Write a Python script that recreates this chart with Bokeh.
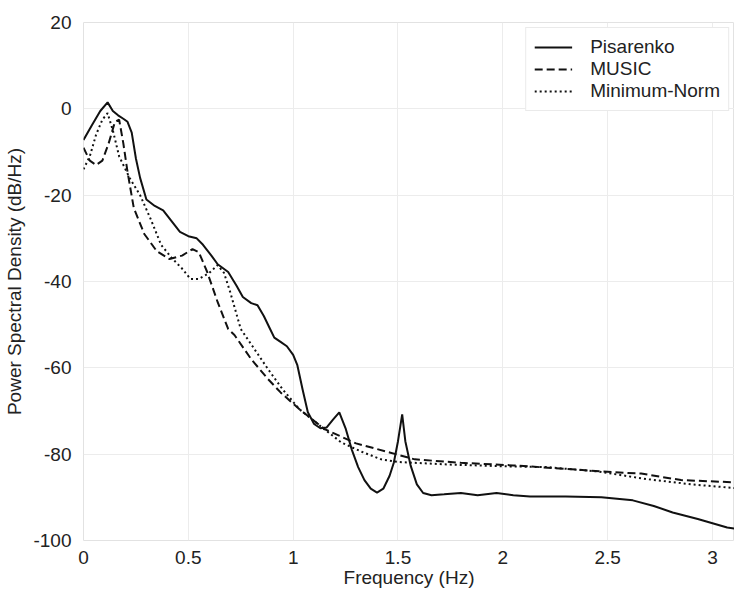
from bokeh.plotting import figure
from bokeh.models import FixedTicker, Range1d, Legend, LegendItem
from bokeh.embed import file_html
from bokeh.resources import INLINE

# ---- data ----
freq_pis = [0, 0.04, 0.08, 0.115, 0.14, 0.165, 0.19, 0.21, 0.23, 0.25, 0.27, 0.30, 0.34, 0.38,
            0.42, 0.46, 0.50, 0.54, 0.57, 0.61, 0.64, 0.69, 0.73, 0.76, 0.80, 0.83, 0.86, 0.89,
            0.91, 0.94, 0.97, 1.00, 1.02, 1.045, 1.07, 1.10, 1.13, 1.16, 1.19, 1.22, 1.25, 1.28,
            1.31, 1.34, 1.37, 1.40, 1.43, 1.46, 1.48, 1.50, 1.52, 1.535, 1.56, 1.59, 1.62, 1.66,
            1.72, 1.80, 1.88, 1.97, 2.05, 2.13, 2.30, 2.47, 2.62, 2.72, 2.81, 2.93, 3.07, 3.14]
psd_pis = [-7.2, -3.8, -0.5, 1.5, -0.5, -1.5, -2.3, -3, -5.5, -11.5, -16, -21, -22.5, -23.5,
           -26, -28.5, -29.5, -30, -31.5, -34, -36, -37.8, -41, -43.6, -45, -45.5, -48, -51,
           -53, -54, -55, -57, -59.4, -65, -70.3, -73, -74, -73.8, -72, -70.3, -74, -79,
           -83, -86, -88, -88.9, -88, -85, -82, -77, -70.8, -77, -82.6, -87, -89, -89.5,
           -89.3, -89, -89.5, -89, -89.5, -89.8, -89.8, -90, -90.7, -92, -93.5, -95, -97, -97.5]

freq_music = [0, 0.03, 0.06, 0.09, 0.12, 0.15, 0.17, 0.19, 0.21, 0.24, 0.29, 0.35, 0.41, 0.47,
              0.52, 0.55, 0.59, 0.64, 0.69, 0.72, 0.80, 0.88, 0.94, 1.03, 1.15, 1.30, 1.46,
              1.58, 1.80, 2.05, 2.30, 2.53, 2.66, 2.85, 3.14]
psd_music = [-9, -12, -13, -12, -8, -3, -2.5, -8, -14.6, -23, -29, -33, -34.8, -34,
             -32.5, -33.2, -37.8, -44.8, -51, -52.4, -58, -62.6, -65.7, -69.6, -74.2, -77.5, -79.6,
             -81.2, -82, -82.6, -83.4, -84.2, -84.5, -86, -86.6]

freq_mnorm = [0, 0.03, 0.06, 0.09, 0.115, 0.14, 0.17, 0.22, 0.27, 0.32, 0.37, 0.42, 0.47, 0.51,
              0.55, 0.60, 0.64, 0.67, 0.70, 0.75, 0.82, 0.88, 0.95, 1.03, 1.13, 1.23, 1.33,
              1.42, 1.50, 1.74, 2.0, 2.21, 2.45, 2.69, 2.90, 3.14]
psd_mnorm = [-14, -11, -6, -2.5, -1, -5, -11, -16, -20, -25.5, -31.5, -34.5, -37, -39.4,
             -39.4, -38, -36.2, -38, -42.5, -51, -56, -60.3, -65, -69.6, -73.5, -77.3, -79.5,
             -81.2, -81.8, -82.4, -82.8, -83, -84, -85.8, -87, -88]

series_names = ["Pisarenko", "MUSIC", "Minimum-Norm"]

x_ticks = [0, 0.5, 1, 1.5, 2, 2.5, 3]
x_tick_labels = ["0", "0.5", "1", "1.5", "2", "2.5", "3"]
y_ticks = [-100, -80, -60, -40, -20, 0, 20]
y_tick_labels = ["-100", "-80", "-60", "-40", "-20", "0", "20"]

FONT = "Liberation Sans"
TXT = "#222222"

p = figure(width=734, height=590, output_backend="svg", toolbar_location=None,
           x_range=Range1d(0, 3.105), y_range=Range1d(-100, 20),
           min_border_left=83, min_border_right=0, min_border_top=22, min_border_bottom=50)

p.outline_line_color = "#e2e2e2"
p.background_fill_color = "white"
p.border_fill_color = "white"

for ax in (p.xaxis[0], p.yaxis[0]):
    ax.axis_line_color = None
    ax.major_tick_line_color = None
    ax.minor_tick_line_color = None
    ax.major_label_text_font = FONT
    ax.major_label_text_font_size = "19px"
    ax.major_label_text_color = TXT
    ax.axis_label_text_font = FONT
    ax.axis_label_text_font_size = "19px"
    ax.axis_label_text_font_style = "normal"
    ax.axis_label_text_color = TXT

p.xaxis.ticker = FixedTicker(ticks=x_ticks)
p.xaxis.major_label_overrides = dict(zip(x_ticks, x_tick_labels))
p.yaxis.ticker = FixedTicker(ticks=y_ticks)
p.yaxis.major_label_overrides = dict(zip(y_ticks, y_tick_labels))
p.xaxis.axis_label = "Frequency (Hz)"
p.yaxis.axis_label = "Power Spectral Density (dB/Hz)"
p.xaxis.major_label_standoff = 4
p.xaxis.axis_label_standoff = 0
p.yaxis.major_label_standoff = 6
p.yaxis.axis_label_standoff = 5

p.xgrid.grid_line_color = "#ececec"
p.ygrid.grid_line_color = "#ececec"
p.xgrid.ticker = FixedTicker(ticks=x_ticks)
p.ygrid.ticker = FixedTicker(ticks=y_ticks)

r1 = p.line(freq_pis, psd_pis, line_color="#111111", line_width=2)
r2 = p.line(freq_music, psd_music, line_color="#111111", line_width=2, line_dash="8 4")
r3 = p.line(freq_mnorm, psd_mnorm, line_color="#111111", line_width=2, line_dash="2 3")

legend = Legend(items=[LegendItem(label=series_names[0], renderers=[r1]),
                       LegendItem(label=series_names[1], renderers=[r2]),
                       LegendItem(label=series_names[2], renderers=[r3])],
                location="top_right")
legend.label_text_font = FONT
legend.label_text_font_size = "19px"
legend.label_text_color = TXT
legend.glyph_width = 38
legend.glyph_height = 22
legend.label_height = 22
legend.label_standoff = 18
legend.spacing = 0
legend.padding = 8
legend.margin = 5
legend.border_line_color = "#d6d6d6"
legend.border_line_width = 1
legend.background_fill_alpha = 1.0
p.add_layout(legend, "center")

open("out.html", "w").write(file_html(p, INLINE))
